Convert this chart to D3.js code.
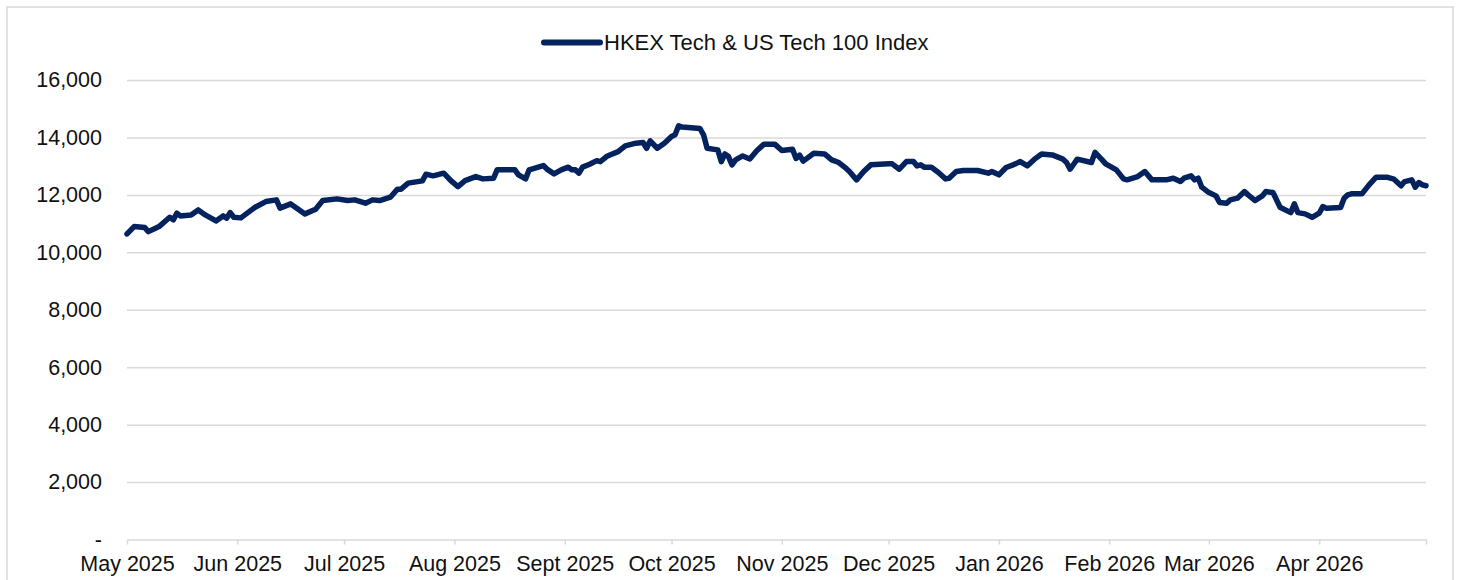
<!DOCTYPE html>
<html>
<head>
<meta charset="utf-8">
<script src="https://cdn.jsdelivr.net/npm/d3@7"></script>
<style>
  body { margin: 0; background: #fff; }
  svg { display: block; font-family: "Liberation Sans", Arial, sans-serif; }
</style>
</head>
<body>
<div id="chart"></div>
<script>
// Index level, May 2025 - Apr 2026
const seriesName = "HKEX Tech & US Tech 100 Index";

const dates = [
  "2025-05-01","2025-05-03","2025-05-06","2025-05-07","2025-05-09","2025-05-10","2025-05-13","2025-05-14","2025-05-15","2025-05-16",
  "2025-05-19","2025-05-21","2025-05-23","2025-05-26","2025-05-28","2025-05-29","2025-05-30","2025-05-31","2025-06-02","2025-06-05",
  "2025-06-06","2025-06-09","2025-06-12","2025-06-13","2025-06-16","2025-06-20","2025-06-23","2025-06-25","2025-06-29","2025-07-02",
  "2025-07-04","2025-07-07","2025-07-09","2025-07-11","2025-07-14","2025-07-16","2025-07-17","2025-07-19","2025-07-23","2025-07-24",
  "2025-07-26","2025-07-29","2025-07-31","2025-08-02","2025-08-04","2025-08-07","2025-08-09","2025-08-12","2025-08-13","2025-08-18",
  "2025-08-19","2025-08-21","2025-08-22","2025-08-26","2025-08-27","2025-08-29","2025-08-31","2025-09-02","2025-09-03","2025-09-04",
  "2025-09-05","2025-09-06","2025-09-08","2025-09-10","2025-09-11","2025-09-13","2025-09-16","2025-09-18","2025-09-21","2025-09-23",
  "2025-09-24","2025-09-25","2025-09-27","2025-09-29","2025-10-01","2025-10-02","2025-10-03","2025-10-04","2025-10-09","2025-10-10",
  "2025-10-11","2025-10-14","2025-10-15","2025-10-16","2025-10-17","2025-10-18","2025-10-19","2025-10-21","2025-10-23","2025-10-25",
  "2025-10-27","2025-10-30","2025-11-01","2025-11-04","2025-11-05","2025-11-06","2025-11-07","2025-11-10","2025-11-13","2025-11-15",
  "2025-11-17","2025-11-19","2025-11-20","2025-11-22","2025-11-24","2025-11-26","2025-12-01","2025-12-02","2025-12-04","2025-12-06",
  "2025-12-08","2025-12-09","2025-12-10","2025-12-11","2025-12-13","2025-12-15","2025-12-17","2025-12-18","2025-12-20","2025-12-22",
  "2025-12-26","2025-12-29","2025-12-30","2026-01-01","2026-01-03","2026-01-05","2026-01-07","2026-01-09","2026-01-11","2026-01-13",
  "2026-01-16","2026-01-19","2026-01-20","2026-01-21","2026-01-22","2026-01-23","2026-01-27","2026-01-28","2026-01-30","2026-01-31",
  "2026-02-03","2026-02-05","2026-02-06","2026-02-09","2026-02-11","2026-02-13","2026-02-17","2026-02-19","2026-02-21","2026-02-22",
  "2026-02-24","2026-02-25","2026-02-26","2026-02-27","2026-03-01","2026-03-03","2026-03-04","2026-03-06","2026-03-07","2026-03-09",
  "2026-03-11","2026-03-12","2026-03-14","2026-03-16","2026-03-17","2026-03-19","2026-03-21","2026-03-24","2026-03-25","2026-03-26",
  "2026-03-28","2026-03-30","2026-04-01","2026-04-02","2026-04-03","2026-04-07","2026-04-08","2026-04-09","2026-04-10","2026-04-13",
  "2026-04-15","2026-04-17","2026-04-20","2026-04-22","2026-04-24","2026-04-25","2026-04-27","2026-04-28","2026-04-29","2026-04-30",
  "2026-05-01"
];

const values = [
  10641,10896,10861,10721,10840,10896,11220,11129,11362,11268,
  11303,11477,11303,11094,11268,11188,11383,11220,11199,11477,
  11571,11767,11826,11537,11686,11338,11502,11802,11861,11802,
  11826,11711,11826,11802,11919,12199,12199,12408,12488,12721,
  12662,12756,12498,12289,12498,12638,12557,12580,12871,12871,
  12697,12557,12871,13021,12895,12732,12871,12965,12871,12871,
  12756,12965,13066,13192,13158,13356,13507,13707,13800,13822,
  13624,13882,13624,13800,14033,14092,14405,14360,14311,14092,
  13624,13566,13158,13426,13334,13045,13220,13356,13252,13543,
  13766,13766,13543,13591,13270,13383,13176,13450,13426,13220,
  13126,12928,12814,12523,12814,13045,13080,13080,12895,13158,
  13158,13010,13045,12965,12965,12777,12557,12580,12814,12849,
  12849,12756,12814,12697,12953,13045,13158,13010,13244,13426,
  13392,13244,13126,12895,13066,13244,13126,13478,13220,13080,
  12871,12557,12523,12638,12814,12523,12523,12580,12463,12580,
  12662,12523,12580,12268,12080,11965,11733,11711,11826,11885,
  12115,12000,11802,11965,12115,12080,11571,11383,11686,11383,
  11338,11220,11362,11592,11537,11557,11885,12000,12035,12035,
  12348,12617,12617,12547,12317,12463,12523,12268,12430,12348,
  12317
];

const monthLabels = ["May 2025","Jun 2025","Jul 2025","Aug 2025","Sept 2025","Oct 2025",
                     "Nov 2025","Dec 2025","Jan 2026","Feb 2026","Mar 2026","Apr 2026"];
const axisStart = "2025-05-01";
const axisEnd = "2026-05-01";
const yTicks = [0, 2000, 4000, 6000, 8000, 10000, 12000, 14000, 16000];

const width = 1458;
const height = 580;
const margin = { top: 80, right: 32, bottom: 40.5, left: 127 };
const plotWidth = width - margin.left - margin.right;
const plotHeight = height - margin.top - margin.bottom;

const lineColor = "#03225e";
const gridColor = "#d9d9d9";
const textColor = "#111";
const fontSize = "21.5px";

const parse = d3.utcParse("%Y-%m-%d");
const data = dates.map((d, i) => ({ date: parse(d), value: values[i] }));

const svg = d3.select("#chart")
  .append("svg")
  .attr("width", width)
  .attr("height", height);

// outer frame
svg.append("rect")
  .attr("x", 7).attr("y", 7)
  .attr("width", 1446).attr("height", 590)
  .attr("fill", "none")
  .attr("stroke", gridColor)
  .attr("stroke-width", 1.5);

const g = svg.append("g")
  .attr("transform", `translate(${margin.left},${margin.top})`);

const x = d3.scaleUtc()
  .domain([parse(axisStart), parse(axisEnd)])
  .range([0, plotWidth]);

const y = d3.scaleLinear()
  .domain([0, 16000])
  .range([plotHeight, 0]);

// gridlines + y labels
const yAxis = g.append("g")
  .call(d3.axisLeft(y)
    .tickValues(yTicks)
    .tickSize(-plotWidth)
    .tickPadding(25)
    .tickFormat(d => d === 0 ? "-" : d3.format(",")(d)));
yAxis.select(".domain").remove();
yAxis.selectAll(".tick line")
  .attr("stroke", gridColor)
  .attr("stroke-width", 1.5);
yAxis.selectAll(".tick line").filter(d => d === 0).remove();
yAxis.selectAll("text")
  .attr("fill", textColor)
  .style("font-size", fontSize);

// x axis with month ticks
const monthTicks = d3.utcMonth.range(parse(axisStart), d3.utcDay.offset(parse(axisEnd), 1));
const xAxis = g.append("g")
  .attr("transform", `translate(0,${plotHeight})`)
  .call(d3.axisBottom(x)
    .tickValues(monthTicks)
    .tickSize(5)
    .tickSizeOuter(0)
    .tickPadding(11)
    .tickFormat((d, i) => monthLabels[i] || ""));
xAxis.select(".domain")
  .attr("stroke", gridColor)
  .attr("stroke-width", 1.5);
xAxis.selectAll(".tick line")
  .attr("stroke", gridColor)
  .attr("stroke-width", 1.5);
xAxis.selectAll("text")
  .attr("fill", textColor)
  .style("font-size", fontSize);

// series line
const line = d3.line()
  .x(d => x(d.date))
  .y(d => y(d.value));

g.append("path")
  .datum(data)
  .attr("fill", "none")
  .attr("stroke", lineColor)
  .attr("stroke-width", 5.5)
  .attr("stroke-linejoin", "round")
  .attr("stroke-linecap", "round")
  .attr("d", line);

// legend
const legend = svg.append("g")
  .attr("transform", "translate(544,42.5)");
legend.append("line")
  .attr("x1", 0).attr("x2", 56)
  .attr("stroke", lineColor)
  .attr("stroke-width", 6)
  .attr("stroke-linecap", "round");
legend.append("text")
  .attr("x", 60)
  .attr("y", 7.5)
  .attr("fill", textColor)
  .style("font-size", "22px")
  .text(seriesName);
</script>
</body>
</html>
